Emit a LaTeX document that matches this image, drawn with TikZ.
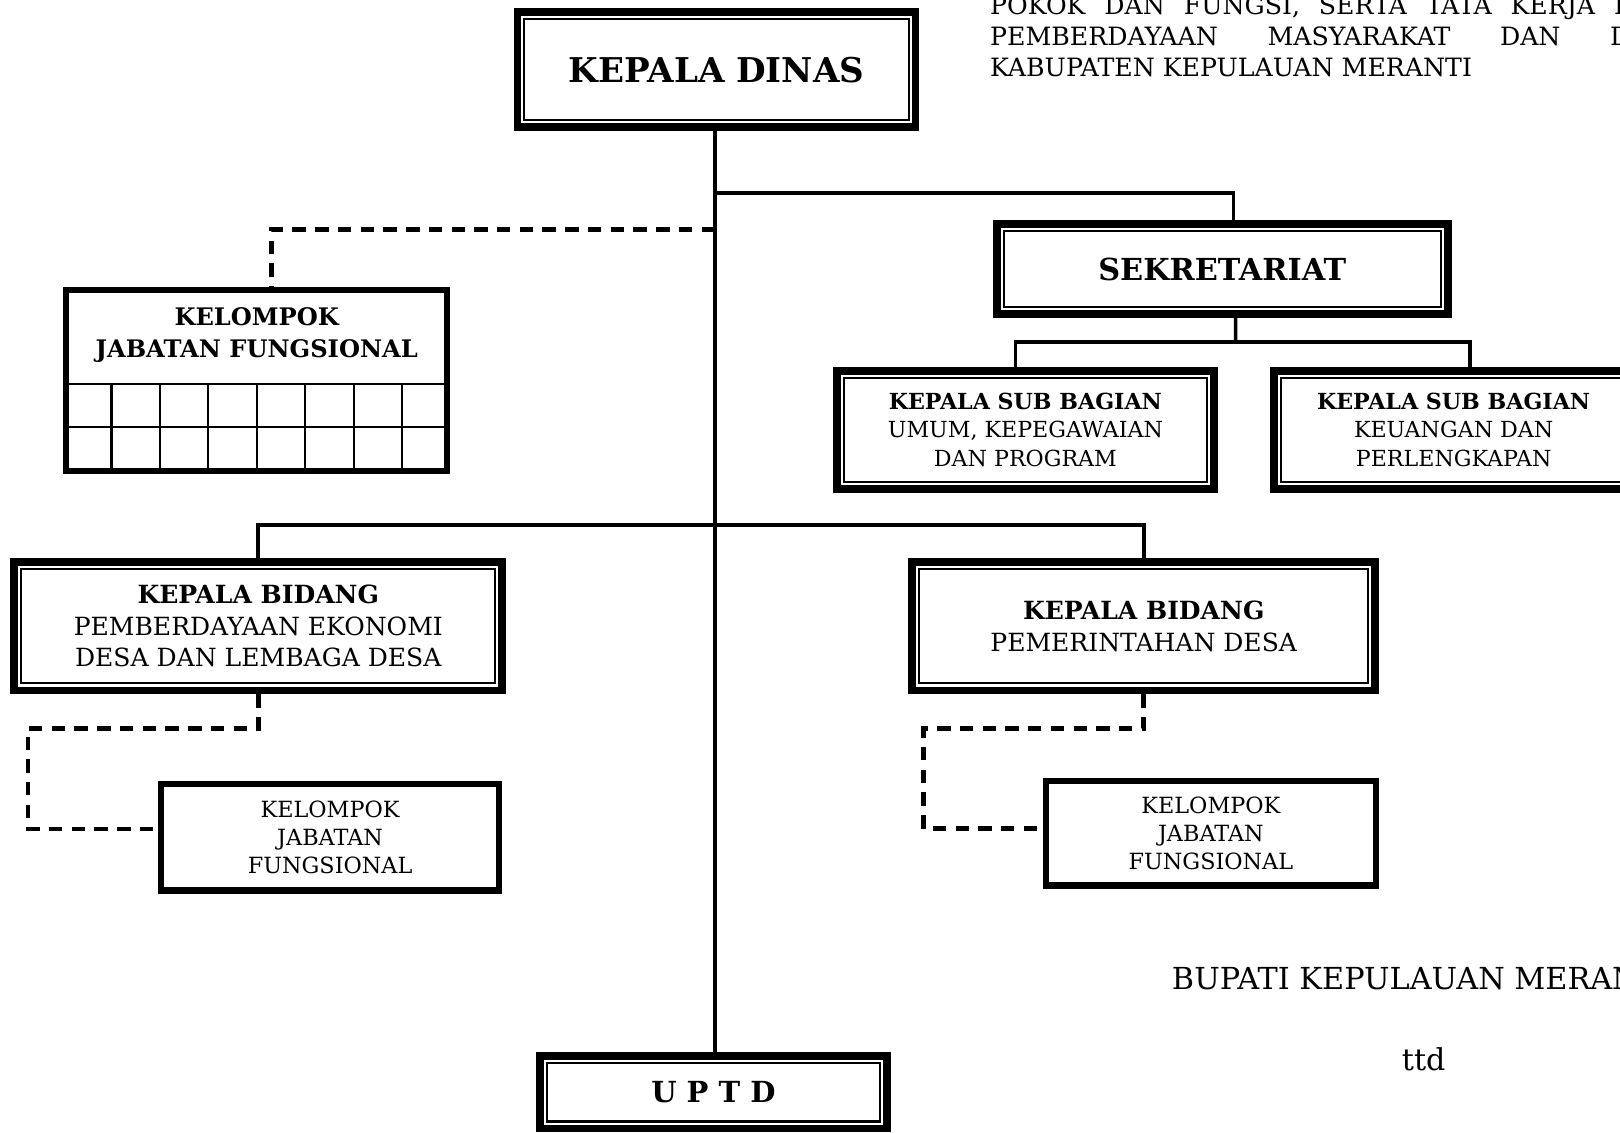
\documentclass[tikz,border=0pt]{standalone}
\usepackage{fontspec}
\setmainfont{DejaVu Serif}
\usetikzlibrary{positioning}
\usetikzlibrary{calc}

\tikzset{
  conn/.style = {line width=0.07cm},
  dashline/.style = {line width=0.09cm, dash pattern=on 0.26cm off 0.18cm},
  elbow/.style = {to path={-| (\tikztotarget)}},
  gridline/.style = {line width=0.04cm},
  dblbox/.style = {draw, line width=0.15cm, inner sep=0pt, align=center,
    path picture={\draw[line width=0.04cm]
      ([shift={(0.135cm,0.135cm)}]path picture bounding box.south west) rectangle
      ([shift={(-0.135cm,-0.135cm)}]path picture bounding box.north east);}},
  onebox/.style = {draw, line width=0.12cm, inner sep=0pt, align=center},
  plain/.style = {inner sep=0pt},
}

\begin{document}
\begin{tikzpicture}[x=0.02cm, y=-0.02cm]
\useasboundingbox (0,0) rectangle (1568,1096);

% kotak-kotak
\node[dblbox, minimum width=7.71cm, minimum height=2.23cm,
      font=\fontsize{18.8}{22}\selectfont\bfseries] (kadis) at (693.5,67.5) {KEPALA DINAS};
\node[dblbox, minimum width=8.73cm, minimum height=1.75cm,
      font=\fontsize{16.7}{20}\selectfont\bfseries] (sekre) at (1183,260.5) {SEKRETARIAT};
\node[dblbox, minimum width=7.31cm, minimum height=2.29cm,
      font=\fontsize{12.2}{15.9}\selectfont] (subum) at (992.5,416)
      {\textbf{KEPALA SUB BAGIAN}\\UMUM, KEPEGAWAIAN\\DAN PROGRAM};
\node[dblbox, minimum width=6.97cm, minimum height=2.29cm,
      font=\fontsize{12.2}{15.9}\selectfont] (subkeu) at (1407,416)
      {\textbf{KEPALA SUB BAGIAN}\\KEUANGAN DAN\\PERLENGKAPAN};
\node[dblbox, minimum width=9.45cm, minimum height=2.49cm,
      font=\fontsize{13.8}{17.4}\selectfont] (kb1) at (250,606)
      {\textbf{KEPALA BIDANG}\\PEMBERDAYAAN EKONOMI\\DESA DAN LEMBAGA DESA};
\node[dblbox, minimum width=8.97cm, minimum height=2.49cm,
      font=\fontsize{13.8}{17.4}\selectfont] (kb2) at (1107,606)
      {\textbf{KEPALA BIDANG}\\PEMERINTAHAN DESA};
\node[dblbox, minimum width=6.71cm, minimum height=1.41cm,
      font=\fontsize{16}{19}\selectfont\bfseries] (uptd) at (690.5,1057) {U P T D};

\node[onebox, minimum width=7.38cm, minimum height=3.50cm] (kjf) at (248.5,368.5) {};
\node[align=center, font=\fontsize{13.3}{17.6}\selectfont\bfseries] (kjftitle) at (248.5,324)
      {KELOMPOK\\JABATAN FUNGSIONAL};
\node[onebox, minimum width=6.54cm, minimum height=2.06cm,
      font=\fontsize{12.3}{15.6}\selectfont] (kjf1) at (319.5,810.5) {KELOMPOK\\JABATAN\\FUNGSIONAL};
\node[onebox, minimum width=6.40cm, minimum height=2.02cm,
      font=\fontsize{12.3}{15.6}\selectfont] (kjf2) at (1172,806.5) {KELOMPOK\\JABATAN\\FUNGSIONAL};

% kisi-kisi kelompok jabatan fungsional
\coordinate (rowa) at (0,372);
\coordinate (rowb) at (0,413);
\path (kjf.west |- rowa) coordinate (rowa west) (kjf.east |- rowa) coordinate (rowa east);
\path[gridline] (rowa west) edge (rowa east)
                (kjf.west |- rowb) edge (kjf.east |- rowb);
\foreach \i in {1,...,7}
  \draw[gridline] ($(rowa west)!\i/8!(rowa east)$) -- ($(kjf.south west)!\i/8!(kjf.south east)$);

% titik sambung
\coordinate (jsek) at (692,187);
\coordinate (jkjf) at (692,222);
\coordinate (jsub) at (1196,331);
\coordinate (jbid) at (692,508);
\coordinate (bend1) at (27,705);
\coordinate (bend2) at (894,705);

\draw[conn] (kadis.south -| jsek) -- (jsek |- uptd.north);
\path[conn] (jsek) edge[elbow] ([xshift=0.22cm]sekre.north)
            ([xshift=0.26cm]sekre.south) edge (jsub)
            (jsub) edge[elbow] ([xshift=-0.19cm]subum.north)
                   edge[elbow] ([xshift=0.32cm]subkeu.north)
            (jbid) edge[elbow] (kb1.north)
                   edge[elbow] (kb2.north);

\path[dashline] (jkjf) edge[elbow] ([xshift=0.29cm]kjf.north);
\draw[dashline] (kb1.south) |- (bend1) |- ([yshift=0.16cm]kjf1.west);
\draw[dashline] (kb2.south) |- (bend2) |- ([yshift=0.09cm]kjf2.west);

% teks lepas
\node[plain, anchor=base west, align=left, font=\fontsize{13.9}{17}\selectfont] (judul) at (958,74)
  {\makebox[13.78cm][s]{POKOK DAN FUNGSI, SERTA TATA KERJA DINAS}\\
   \makebox[13.44cm][s]{PEMBERDAYAAN MASYARAKAT DAN DESA}\\
   KABUPATEN KEPULAUAN MERANTI};
\node[plain, anchor=base west, font=\fontsize{16.7}{20}\selectfont] (bupati) at (1134,958) {BUPATI KEPULAUAN MERANTI};
\node[plain, anchor=base, font=\fontsize{16.6}{20}\selectfont] (ttd) at (1378,1036) {ttd};
\end{tikzpicture}
\end{document}
